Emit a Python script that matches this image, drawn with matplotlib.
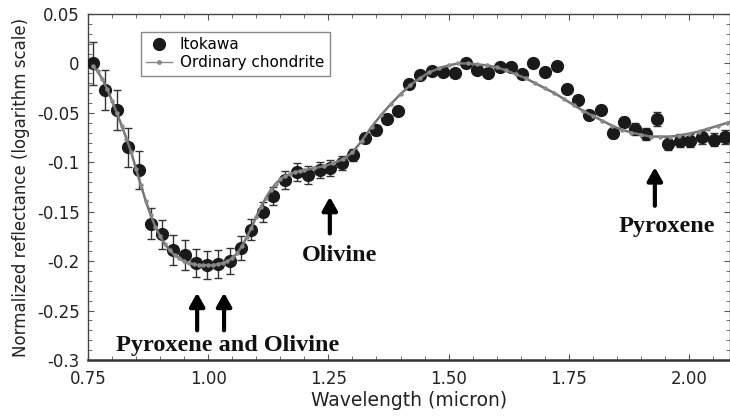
import matplotlib
matplotlib.use("Agg")
import matplotlib.pyplot as plt
from matplotlib.lines import Line2D
from matplotlib.ticker import MultipleLocator, FixedLocator

# Itokawa data
ito_wl = [0.761, 0.786, 0.811, 0.834, 0.857, 0.880, 0.903, 0.927, 0.952, 0.975,
          0.998, 1.021, 1.045, 1.068, 1.090, 1.115, 1.135, 1.160, 1.184, 1.208,
          1.232, 1.253, 1.278, 1.302, 1.326, 1.349, 1.371, 1.395, 1.418, 1.440,
          1.465, 1.489, 1.513, 1.536, 1.560, 1.582, 1.607, 1.629, 1.653, 1.676,
          1.700, 1.725, 1.747, 1.770, 1.793, 1.816, 1.841, 1.864, 1.888, 1.911,
          1.933, 1.957, 1.981, 2.003, 2.028, 2.051, 2.075]
ito_refl = [0.000, -0.027, -0.047, -0.085, -0.108, -0.162, -0.173, -0.189, -0.194, -0.202,
            -0.204, -0.203, -0.200, -0.187, -0.168, -0.150, -0.134, -0.118, -0.110, -0.113,
            -0.108, -0.106, -0.101, -0.093, -0.075, -0.067, -0.056, -0.048, -0.021, -0.012,
            -0.008, -0.009, -0.010, 0.000, -0.007, -0.010, -0.004, -0.004, -0.011, 0.000,
            -0.009, -0.003, -0.026, -0.037, -0.052, -0.047, -0.070, -0.059, -0.066, -0.071,
            -0.056, -0.081, -0.078, -0.078, -0.074, -0.077, -0.074]
ito_err = [0.022, 0.020, 0.020, 0.020, 0.019, 0.016, 0.015, 0.015, 0.015, 0.014,
           0.014, 0.014, 0.013, 0.012, 0.011, 0.010, 0.009, 0.009, 0.009, 0.009,
           0.008, 0.008, 0.007, 0.006, 0.005, 0.005, 0.004, 0.004, 0.003, 0.003,
           0.003, 0.003, 0.003, 0.003, 0.003, 0.003, 0.003, 0.003, 0.003, 0.003,
           0.003, 0.003, 0.003, 0.003, 0.004, 0.004, 0.005, 0.005, 0.006, 0.006,
           0.007, 0.007, 0.007, 0.007, 0.007, 0.007, 0.007]

# Ordinary chondrite spectrum
oc_wl = [0.76, 0.77, 0.78, 0.79, 0.80, 0.81, 0.82, 0.83, 0.84, 0.85,
         0.86, 0.87, 0.88, 0.89, 0.90, 0.91, 0.92, 0.93, 0.94, 0.95,
         0.96, 0.97, 0.98, 0.99, 1.00, 1.01, 1.02, 1.03, 1.04, 1.05,
         1.06, 1.07, 1.08, 1.09, 1.10, 1.11, 1.12, 1.13, 1.14, 1.15,
         1.16, 1.17, 1.18, 1.19, 1.20, 1.22, 1.24, 1.26, 1.28, 1.30,
         1.32, 1.34, 1.36, 1.38, 1.40, 1.42, 1.44, 1.46, 1.48, 1.50,
         1.52, 1.54, 1.56, 1.58, 1.60, 1.62, 1.64, 1.66, 1.68, 1.70,
         1.72, 1.74, 1.76, 1.78, 1.80, 1.82, 1.84, 1.86, 1.88, 1.90,
         1.92, 1.94, 1.96, 1.98, 2.00, 2.02, 2.04, 2.06, 2.08, 2.10]
oc_refl = [-0.003, -0.008, -0.016, -0.026, -0.038, -0.050, -0.063, -0.076, -0.090, -0.107,
           -0.123, -0.139, -0.153, -0.165, -0.175, -0.183, -0.189, -0.194, -0.197, -0.200,
           -0.202, -0.203, -0.204, -0.204, -0.204, -0.204, -0.203, -0.202, -0.200, -0.197,
           -0.192, -0.185, -0.176, -0.166, -0.155, -0.145, -0.136, -0.128, -0.122, -0.117,
           -0.114, -0.112, -0.110, -0.109, -0.108, -0.106, -0.104, -0.101, -0.097, -0.090,
           -0.078, -0.064, -0.052, -0.041, -0.031, -0.022, -0.015, -0.009, -0.005, -0.002,
           0.000, 0.000, -0.001, -0.002, -0.004, -0.007, -0.011, -0.015, -0.020, -0.025,
           -0.030, -0.036, -0.042, -0.048, -0.053, -0.058, -0.063, -0.067, -0.070, -0.072,
           -0.074, -0.074, -0.074, -0.073, -0.071, -0.069, -0.066, -0.063, -0.060, -0.057]

x_ticks = [0.75, 1.00, 1.25, 1.50, 1.75, 2.00]
x_ticklabels = ["0.75", "1.00", "1.25", "1.50", "1.75", "2.00"]
y_ticks = [0.05, 0, -0.05, -0.1, -0.15, -0.2, -0.25, -0.3]
y_ticklabels = ["0.05", "0", "-0.05", "-0.1", "-0.15", "-0.2", "-0.25", "-0.3"]

# annotations
ann_pyrol = ("Pyroxene and Olivine", 1.040, -0.285)
ann_pyrol_arrows = [0.977, 1.033]
ann_olivine = ("Olivine", 1.274, -0.194)
ann_olivine_arrow = 1.253
ann_pyroxene = ("Pyroxene", 1.953, -0.165)
ann_pyroxene_arrow = 1.929

fig = plt.figure(figsize=(7.3, 4.16), dpi=100)
ax = fig.add_axes([88/730, 1 - 360/416, 1 - 88/730, (360 - 14)/416])

ax.errorbar(ito_wl, ito_refl, yerr=ito_err, fmt='o', color='#1a1a1a',
            markersize=8.5, ecolor='#333333', elinewidth=1.0, capsize=3,
            capthick=1.0, zorder=3)
ax.plot(oc_wl, oc_refl, '-', color='#767676', linewidth=1.8, marker='o',
        markersize=2.2, markerfacecolor='#8a8a8a', markeredgecolor='#8a8a8a',
        zorder=4)

ito_handle = Line2D([], [], linestyle='none', marker='o', markersize=8.5,
                    color='#1a1a1a')
oc_handle = Line2D([], [], linestyle='-', linewidth=1.0, color='#888888',
                   marker='o', markersize=2.5)

ax.set_xlim(0.75, 0.75 + 642/480.8)
ax.set_ylim(-0.3, 0.05)
ax.xaxis.set_major_locator(FixedLocator(x_ticks))
ax.set_xticklabels(x_ticklabels)
ax.xaxis.set_minor_locator(MultipleLocator(0.05))
ax.yaxis.set_major_locator(FixedLocator(y_ticks))
ax.set_yticklabels(y_ticklabels)
ax.yaxis.set_minor_locator(MultipleLocator(0.01))
ax.tick_params(axis='both', which='both', direction='in', top=True, right=True,
               colors='#555555', labelcolor='#222222', labelsize=12)
ax.tick_params(which='major', length=4)
ax.tick_params(which='minor', length=3)
ax.tick_params(axis='x', pad=7)
ax.tick_params(axis='y', pad=6)

for s in ['top', 'left', 'right']:
    ax.spines[s].set_color('#444444')
    ax.spines[s].set_linewidth(1.0)
ax.spines['bottom'].set_color('#333333')
ax.spines['bottom'].set_linewidth(1.8)

ax.set_xlabel("Wavelength (micron)", fontsize=13.5, color='#222222', labelpad=2)
ax.set_ylabel("Normalized reflectance (logarithm scale)", fontsize=12,
              color='#222222', labelpad=5)

leg = ax.legend([ito_handle, oc_handle], ['Itokawa', 'Ordinary chondrite'],
                loc='upper left', bbox_to_anchor=(0.0826, 0.948), borderaxespad=0,
                fancybox=False, edgecolor='#888888', framealpha=1, fontsize=11,
                handlelength=1.7, borderpad=0.35, labelspacing=0.2, handletextpad=0.5)
leg.get_frame().set_linewidth(1.0)

tfont = dict(family='Liberation Serif', fontweight='bold', fontsize=17.5, color='#111111')
ax.text(ann_pyrol[1], ann_pyrol[2], ann_pyrol[0], ha='center', va='center', **tfont)
ax.text(ann_olivine[1], ann_olivine[2], ann_olivine[0], ha='center', va='center', **tfont)
ax.text(ann_pyroxene[1], ann_pyroxene[2], ann_pyroxene[0], ha='center', va='center', **tfont)

aprops = dict(arrowstyle='-|>,head_length=0.8,head_width=0.45', color='black',
              linewidth=3, shrinkA=0, shrinkB=0)
for a_x in ann_pyrol_arrows:
    ax.annotate('', xy=(a_x, -0.232), xytext=(a_x, -0.270), arrowprops=aprops)
ax.annotate('', xy=(ann_olivine_arrow, -0.135), xytext=(ann_olivine_arrow, -0.172),
            arrowprops=aprops)
ax.annotate('', xy=(ann_pyroxene_arrow, -0.105), xytext=(ann_pyroxene_arrow, -0.144),
            arrowprops=aprops)

fig.savefig("out.png", dpi=100)
